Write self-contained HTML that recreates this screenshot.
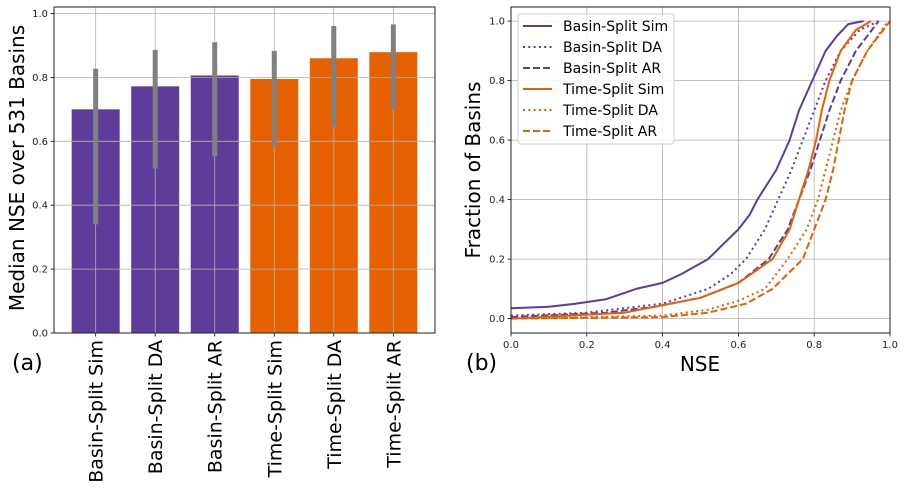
<!DOCTYPE html>
<html><head><meta charset="utf-8"><style>
html,body{margin:0;padding:0;background:#fff}
svg{display:block;font-family:"DejaVu Sans","Liberation Sans",sans-serif}
</style></head><body>
<svg id="chart" width="906" height="498" viewBox="0 0 906 498" xmlns="http://www.w3.org/2000/svg"></svg>
<script>
// ---- Panel (a) data ----
const barCategories = ["Basin-Split Sim","Basin-Split DA","Basin-Split AR","Time-Split Sim","Time-Split DA","Time-Split AR"];
const barValues = [0.700, 0.772, 0.806, 0.795, 0.860, 0.879];
const errLow = [0.340, 0.515, 0.553, 0.585, 0.645, 0.700];
const errHigh = [0.827, 0.886, 0.910, 0.883, 0.961, 0.966];
const barTicks = [0.0, 0.2, 0.4, 0.6, 0.8, 1.0];
// ---- Panel (b) data ----
const cdfTicksX = [0.0, 0.2, 0.4, 0.6, 0.8, 1.0];
const cdfTicksY = [0.0, 0.2, 0.4, 0.6, 0.8, 1.0];
const bsSimX = [0,0.10,0.17,0.25,0.33,0.40,0.45,0.52,0.56,0.60,0.63,0.65,0.70,0.735,0.76,0.795,0.83,0.86,0.89,0.93];
const bsSimY = [0.035,0.04,0.05,0.065,0.10,0.12,0.15,0.20,0.25,0.30,0.35,0.40,0.50,0.60,0.70,0.80,0.90,0.95,0.99,1.0];
const bsDaX = [0,0.20,0.40,0.52,0.58,0.62,0.67,0.705,0.74,0.77,0.80,0.83,0.87,0.92,0.97];
const bsDaY = [0.01,0.02,0.05,0.10,0.15,0.20,0.30,0.40,0.50,0.60,0.70,0.80,0.90,0.97,1.0];
const bsArX = [0,0.25,0.38,0.50,0.60,0.68,0.73,0.76,0.79,0.815,0.84,0.87,0.91,0.94,0.97];
const bsArY = [0.005,0.02,0.04,0.07,0.12,0.20,0.30,0.40,0.50,0.60,0.70,0.80,0.90,0.95,1.0];
const tsSimX = [0,0.30,0.38,0.50,0.60,0.69,0.735,0.76,0.785,0.805,0.82,0.84,0.87,0.91,0.95];
const tsSimY = [0,0.02,0.04,0.07,0.12,0.20,0.30,0.40,0.50,0.60,0.70,0.80,0.90,0.97,1.0];
const tsDaX = [0,0.40,0.52,0.60,0.67,0.73,0.78,0.81,0.83,0.85,0.87,0.90,0.94,0.995];
const tsDaY = [0,0.01,0.03,0.06,0.10,0.20,0.30,0.40,0.50,0.60,0.70,0.80,0.90,1.0];
const tsArX = [0,0.40,0.52,0.62,0.69,0.77,0.80,0.83,0.85,0.865,0.88,0.90,0.94,1.0];
const tsArY = [0,0.005,0.02,0.05,0.10,0.20,0.30,0.40,0.50,0.60,0.70,0.80,0.90,1.0];

const NS="http://www.w3.org/2000/svg";
const svg=document.getElementById('chart');
function mk(tag,attrs,parent){const e=document.createElementNS(NS,tag);for(const k in attrs)e.setAttribute(k,attrs[k]);(parent||svg).appendChild(e);return e;}
const PURPLE="#5e3c99", ORANGE="#e66101", GRID="#b0b0b0";

// ===== Panel (a) =====
const aL=54,aR=435,aT=7,aB=333;
const ay=v=>333-v*319.5;
const ax=i=>aL+(i+0.7)*(aR-aL)/6.4;
const gA=mk('g',{});


const barColors=["#5e3c99","#5e3c99","#5e3c99","#e66101","#e66101","#e66101"];
barCategories.forEach((c,i)=>{
  const x=ax(i),bw=48;
  const r=mk('rect',{x:x-bw/2,y:ay(barValues[i]),width:bw,height:ay(0)-ay(barValues[i]),fill:barColors[i]},gA);
  
  
});
barTicks.forEach(t=>{
  mk('line',{x1:aL,x2:aR,y1:ay(t),y2:ay(t),stroke:GRID,'stroke-width':0.8},gA);
  const lb=mk('text',{x:aL-6,y:ay(t)+3.5,'font-size':10,'text-anchor':'end',fill:'#222'},gA);
  lb.textContent=t.toFixed(1);
  
  
  mk('line',{x1:aL-3.5,x2:aL,y1:ay(t),y2:ay(t),stroke:'#000','stroke-width':0.8},gA);
});
barCategories.forEach((c,i)=>{
  const x=ax(i);
  mk('line',{x1:x,x2:x,y1:aT,y2:aB,stroke:GRID,'stroke-width':0.8},gA);
  const e=mk('line',{x1:x,x2:x,y1:ay(errLow[i]),y2:ay(errHigh[i]),stroke:'#808080','stroke-width':5},gA);
  
  
  mk('line',{x1:x,x2:x,y1:aB,y2:aB+3.5,stroke:'#000','stroke-width':0.8},gA);
  const t=mk('text',{x:0,y:0,'font-size':19,'text-anchor':'end',fill:'#000',transform:`translate(${x+7},${aB+7}) rotate(-90)`},gA);
  t.textContent=c;
  
  
});
mk('rect',{x:aL,y:aT,width:aR-aL,height:aB-aT,fill:'none',stroke:'#222','stroke-width':1},gA);
const yla=mk('text',{x:0,y:0,'font-size':20,'text-anchor':'middle',transform:`translate(24,168) rotate(-90)`},gA);
yla.textContent="Median NSE over 531 Basins";


const pa=mk('text',{x:12,y:370,'font-size':22},gA);
pa.textContent="(a)";



// ===== Panel (b) =====
const bL=511,bR=890,bT=7,bB=333;
const bx=v=>bL+v*(bR-bL);
const by=v=>318.6-v*297.5;
const gB=mk('g',{});


cdfTicksX.forEach(t=>{
  mk('line',{x1:bx(t),x2:bx(t),y1:bT,y2:bB,stroke:GRID,'stroke-width':0.8},gB);
  mk('line',{x1:bx(t),x2:bx(t),y1:bB,y2:bB+3.5,stroke:'#000','stroke-width':0.8},gB);
  const lb=mk('text',{x:bx(t),y:bB+15,'font-size':10,'text-anchor':'middle',fill:'#222'},gB);
  lb.textContent=t.toFixed(1);
  
  
});
cdfTicksY.forEach(t=>{
  mk('line',{x1:bL,x2:bR,y1:by(t),y2:by(t),stroke:GRID,'stroke-width':0.8},gB);
  mk('line',{x1:bL-3.5,x2:bL,y1:by(t),y2:by(t),stroke:'#000','stroke-width':0.8},gB);
  const lb=mk('text',{x:bL-6,y:by(t)+3.5,'font-size':10,'text-anchor':'end',fill:'#222'},gB);
  lb.textContent=t.toFixed(1);
  
  
});
const series=[
 {n:"Basin-Split Sim",x:bsSimX,y:bsSimY,c:PURPLE,d:""},
 {n:"Basin-Split DA",x:bsDaX,y:bsDaY,c:PURPLE,d:"2,3.3"},
 {n:"Basin-Split AR",x:bsArX,y:bsArY,c:PURPLE,d:"7,3"},
 {n:"Time-Split Sim",x:tsSimX,y:tsSimY,c:ORANGE,d:""},
 {n:"Time-Split DA",x:tsDaX,y:tsDaY,c:ORANGE,d:"2,3.3"},
 {n:"Time-Split AR",x:tsArX,y:tsArY,c:ORANGE,d:"7,3"}
];
series.forEach(s=>{
  const pts=s.x.map((v,i)=>bx(v).toFixed(1)+','+by(s.y[i]).toFixed(1)).join(' ');
  const a={points:pts,fill:'none',stroke:s.c,'stroke-width':2,'stroke-linejoin':'round'};
  if(s.d)a['stroke-dasharray']=s.d;
  const p=mk('polyline',a,gB);
  
  
});
mk('rect',{x:bL,y:bT,width:bR-bL,height:bB-bT,fill:'none',stroke:'#222','stroke-width':1},gB);
// legend
const lg=mk('g',{},gB);


mk('rect',{x:518,y:14,width:156,height:130,rx:3,fill:'#fff','fill-opacity':0.85,stroke:'#d0d0d0','stroke-width':1},lg);
series.forEach((s,i)=>{
  const yy=26+i*21;
  const a={x1:523,x2:552,y1:yy,y2:yy,stroke:s.c,'stroke-width':2};
  if(s.d)a['stroke-dasharray']=s.d;
  mk('line',a,lg);
  const t=mk('text',{x:563,y:yy+5,'font-size':14,fill:'#000'},lg);
  t.textContent=s.n;
  
  
});
const ylb=mk('text',{x:0,y:0,'font-size':20,'text-anchor':'middle',transform:`translate(480,170) rotate(-90)`},gB);
ylb.textContent="Fraction of Basins";


const xlb=mk('text',{x:700,y:371,'font-size':20,'text-anchor':'middle'},gB);
xlb.textContent="NSE";


const pb=mk('text',{x:466,y:370,'font-size':22},gB);
pb.textContent="(b)";


</script>
</body></html>
